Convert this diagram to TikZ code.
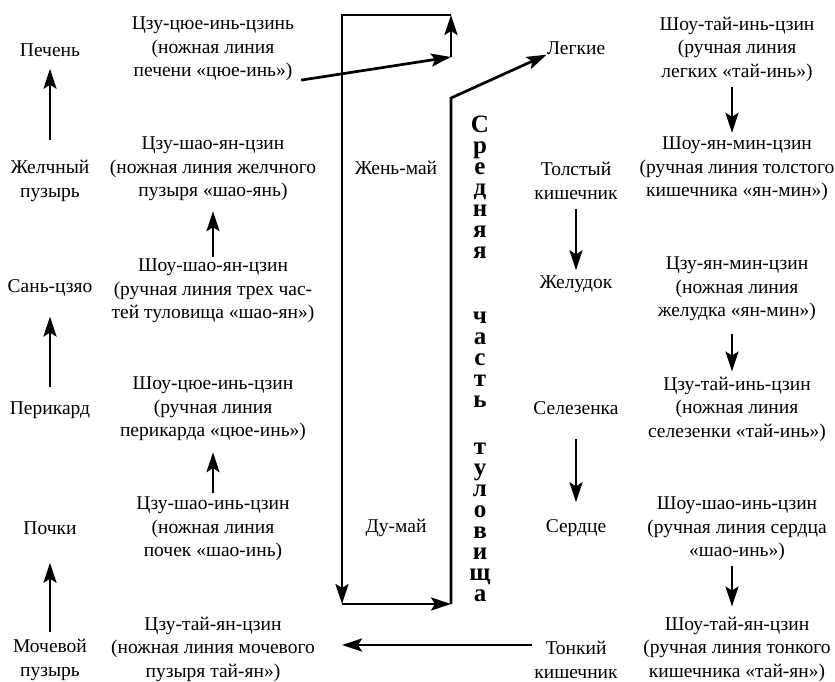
\documentclass[tikz,border=0pt]{standalone}
\usepackage{fontspec}
\setmainfont{Liberation Serif}
\usetikzlibrary{arrows.meta}
\tikzset{
  arr/.style={line width=2.7pt, -{Stealth[length=20pt,width=13pt,inset=4pt]}},
  organ/.style={align=center, inner sep=0pt},
  chan/.style={align=center, inner sep=0pt}
}
\begin{document}
\begin{tikzpicture}[x=1pt, y=-1pt, every node/.style={font=\fontsize{19.5}{23.5}\selectfont}]
  \useasboundingbox (0,0) rectangle (835,681);
  \foreach \n/\y/\lab in {liver/50/Печень, gall/181/{Желчный\\пузырь}, sanjiao/288/Сань-цзяо,
      peri/410/Перикард, kidney/528/Почки, bladder/660/{Мочевой\\пузырь}}
    \node[organ] (\n) at (50,\y) {\lab};
  \foreach \n/\y/\lab in {lungs/48/Легкие, colon/181/{Толстый\\кишечник}, stomach/284/Желудок,
      spleen/408/Селезенка, heart/528/Сердце, small/660/{Тонкий\\кишечник}}
    \node[organ] (\n) at (576,\y) {\lab};
  \foreach \n/\y/\lab in {
      m1/49/{Цзу-цюе-инь-цзинь\\(ножная линия\\печени «цюе-инь»)},
      m2/169/{Цзу-шао-ян-цзин\\(ножная линия желчного\\пузыря «шао-янь)},
      m3/291/{Шоу-шао-ян-цзин\\(ручная линия трех час-\\тей туловища «шао-ян»)},
      m4/409/{Шоу-цюе-инь-цзин\\(ручная линия\\перикарда «цюе-инь»)},
      m5/529/{Цзу-шао-инь-цзин\\(ножная линия\\почек «шао-инь)},
      m6/649/{Цзу-тай-ян-цзин\\(ножная линия мочевого\\пузыря тай-ян»)}}
    \node[chan] (\n) at (213,\y) {\lab};
  \foreach \n/\y/\lab in {
      r1/49/{Шоу-тай-инь-цзин\\(ручная линия\\легких «тай-инь»)},
      r2/169/{Шоу-ян-мин-цзин\\(ручная линия толстого\\кишечника «ян-мин»)},
      r3/289/{Цзу-ян-мин-цзин\\(ножная линия\\желудка «ян-мин»)},
      r4/409/{Цзу-тай-инь-цзин\\(ножная линия\\селезенки «тай-инь»)},
      r5/529/{Шоу-шао-инь-цзин\\(ручная линия сердца\\«шао-инь»)},
      r6/649/{Шоу-тай-ян-цзин\\(ручная линия тонкого\\кишечника «тай-ян»)}}
    \node[chan] (\n) at (737,\y) {\lab};

  \node (zhen) at (396,168) {Жень-май};
  \node (du) at (396,528) {Ду-май};
  \node[align=center, inner sep=0pt, font=\bfseries\fontsize{25}{21}\selectfont] (torso) at (480,359)
    {С\\р\\е\\д\\н\\я\\я\\[44pt]ч\\а\\с\\т\\ь\\[26pt]т\\у\\л\\о\\в\\и\\щ\\а};

  \draw[arr, shorten <=20pt, shorten >=12pt] (gall) -- (liver);
  \draw[arr, shorten <=14pt, shorten >=20pt] (peri) -- (sanjiao);
  \draw[arr, shorten <=7pt, shorten >=28pt] (bladder) -- (kidney);
  \draw[arr, shorten <=2pt, shorten >=10pt] (m3) -- (m2);
  \draw[arr, shorten <=4pt, shorten >=11pt] (m5) -- (m4);
  \draw[arr, shorten <=6pt, shorten >=4pt] ([xshift=-5pt]r1.south) -- ([xshift=-5pt]r2.north);
  \draw[arr, shorten <=13pt, shorten >=5pt] ([xshift=-5pt]r3.south) -- ([xshift=-5pt]r4.north);
  \draw[arr, shorten <=5pt, shorten >=10pt] ([xshift=-5pt]r5.south) -- ([xshift=-5pt]r6.north);
  \draw[arr, shorten <=9pt, shorten >=5pt] (colon) -- (stomach);
  \draw[arr, shorten <=24pt, shorten >=17pt] (spleen) -- (heart);

  \coordinate (jm) at (451,57);
  \coordinate (jt) at (451,15);
  \coordinate (jl) at (342,15);
  \coordinate (dl) at (342,604);
  \coordinate (dr) at (451,604);
  \coordinate (jr) at (451,98);
  \draw[arr, shorten <=7pt] (m1.south east) -- (jm);
  \draw[arr] (jm) -- (jt);
  \draw[arr] (jt) -- (jl) -- (dl);
  \draw[arr] (dl) -- (dr);
  \draw[arr] (dr) -- (jr) -- (lungs.south west);
  \draw[arr, shorten <=2pt] ([yshift=15pt]small.west) -- ([yshift=15pt]small.west -| dl);
\end{tikzpicture}
\end{document}
